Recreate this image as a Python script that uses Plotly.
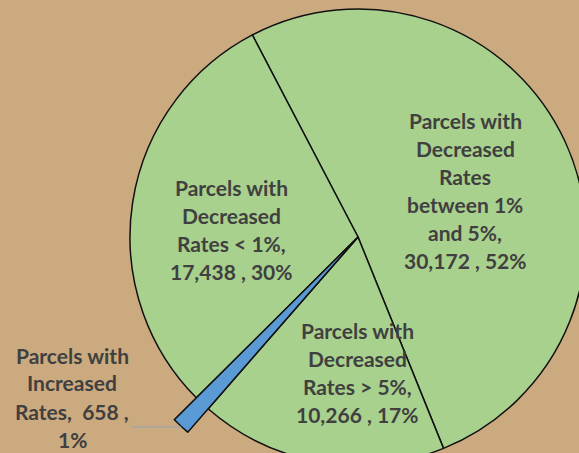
import plotly.graph_objects as go

# ---- data ----
categories = [
    "Parcels with Decreased Rates between 1% and 5%",
    "Parcels with Decreased Rates > 5%",
    "Parcels with Increased Rates",
    "Parcels with Decreased Rates < 1%",
]
values = [30172, 10266, 658, 17438]
pct_labels = [52, 17, 1, 30]
label_lines = [
    ["Parcels with", "Decreased", "Rates", "between 1%", "and 5%,", "{v} , {p}%"],
    ["Parcels with", "Decreased", "Rates > 5%,", "{v} , {p}%"],
    ["Parcels with", "Increased", "Rates,  {v} ,", "{p}%"],
    ["Parcels with", "Decreased", "Rates < 1%,", "{v} , {p}%"],
]
colors = ["#A9D18E", "#A9D18E", "#5B9BD5", "#A9D18E"]

# ---- layout geometry (pixels) ----
W, H, SHIFT = 620, 530, 30
BG = "#CBAA7F"
cx, cy = 358, 237          # pie centre on screen
r_main, r_blue = 228, 259  # radii
rotation = -27.6


def px(x):
    return x / W


def py(y):
    return (H - (y + SHIFT)) / H


def dom(r):
    return dict(x=[px(cx - r), px(cx + r)], y=[py(cy + r), py(cy - r)])


fig = go.Figure()
fig.add_trace(go.Pie(
    labels=categories, values=values, sort=False, direction="clockwise",
    rotation=rotation, textinfo="none", hoverinfo="label+value+percent",
    marker=dict(colors=colors, line=dict(color="#111111", width=1.5)),
    domain=dom(r_main), showlegend=False,
))
blue_only = [c if c == "#5B9BD5" else "rgba(0,0,0,0)" for c in colors]
fig.add_trace(go.Pie(
    labels=categories, values=values, sort=False, direction="clockwise",
    rotation=rotation, textinfo="none", hoverinfo="skip",
    marker=dict(colors=blue_only,
                line=dict(color="#111111",
                          width=[1.5 if c != "rgba(0,0,0,0)" else 0 for c in blue_only])),
    domain=dom(r_blue), showlegend=False,
))

# label anchor positions (screen px): centre x, first-line y
label_pos = [(465, 120), (357, 330), (72, 355), (231, 187)]
LINE_H = 28
for lines, v, p, (lx, ly) in zip(label_lines, values, pct_labels, label_pos):
    for i, ln in enumerate(lines):
        fig.add_annotation(
            x=px(lx), y=py(ly + i * LINE_H), xref="paper", yref="paper",
            text="<b>" + ln.format(v=f"{v:,}", p=p) + "</b>",
            showarrow=False, xanchor="center", yanchor="middle",
            font=dict(family="Lato", size=21, color="#404040"),
        )

# leader line for the small slice
fig.add_shape(type="line", xref="paper", yref="paper",
              x0=px(131), x1=px(181), y0=py(427), y1=py(427),
              line=dict(color="#A6A6A6", width=1.5))

fig.update_layout(
    width=W, height=H, margin=dict(l=0, r=0, t=0, b=0),
    paper_bgcolor=BG, plot_bgcolor=BG,
)

post = (
    "document.documentElement.style.overflow='hidden';"
    "document.body.style.margin='0';document.body.style.overflow='hidden';"
    "document.body.style.background='" + BG + "';"
    "var d=document.getElementById('{plot_id}');d.style.marginTop='-" + str(SHIFT) + "px';"
)
fig.write_html("out.html", post_script=post)
